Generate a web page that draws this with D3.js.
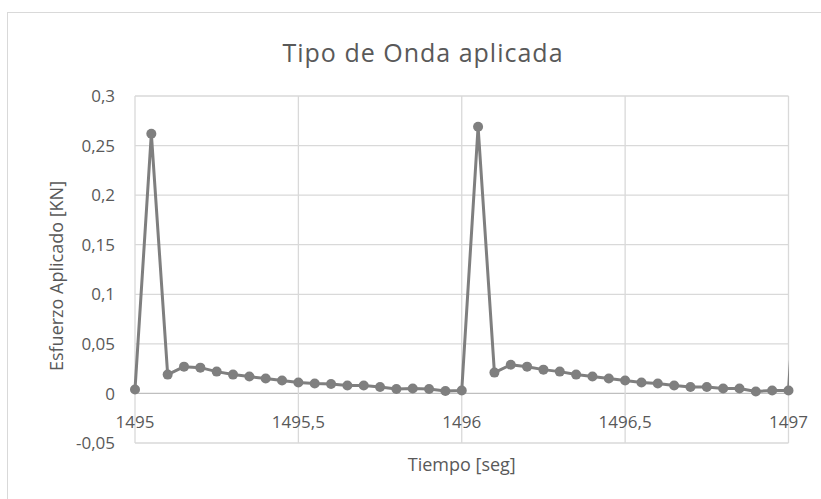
<!DOCTYPE html>
<html>
<head>
<meta charset="utf-8">
<script src="https://cdn.jsdelivr.net/npm/d3@7"></script>
<style>
  body { margin: 0; background: #fff; }
  text { font-family: "Open Sans", sans-serif; fill: #595959; }
</style>
</head>
<body>
<div id="chart"></div>
<script>
// data (tiempo en seg, esfuerzo en KN)
var tiempo = [1495, 1495.05, 1495.1, 1495.15, 1495.2, 1495.25, 1495.3, 1495.35, 1495.4, 1495.45,
  1495.5, 1495.55, 1495.6, 1495.65, 1495.7, 1495.75, 1495.8, 1495.85, 1495.9, 1495.95,
  1496, 1496.05, 1496.1, 1496.15, 1496.2, 1496.25, 1496.3, 1496.35, 1496.4, 1496.45,
  1496.5, 1496.55, 1496.6, 1496.65, 1496.7, 1496.75, 1496.8, 1496.85, 1496.9, 1496.95, 1497];
var esfuerzo = [0.004, 0.262, 0.019, 0.027, 0.026, 0.022, 0.019, 0.017, 0.015, 0.013,
  0.011, 0.010, 0.0095, 0.008, 0.008, 0.0065, 0.0045, 0.005, 0.0045, 0.0025,
  0.003, 0.269, 0.021, 0.029, 0.027, 0.024, 0.022, 0.019, 0.017, 0.015,
  0.013, 0.011, 0.010, 0.008, 0.0065, 0.0065, 0.005, 0.005, 0.002, 0.003, 0.003];
// next sample past the right edge, only its line stub shows
var tiempoSig = 1497.05, esfuerzoSig = 0.26;

var xTicks = [1495, 1495.5, 1496, 1496.5, 1497];
var yTicks = [-0.05, 0, 0.05, 0.1, 0.15, 0.2, 0.25, 0.3];

var titulo = "Tipo de Onda aplicada";
var xTitulo = "Tiempo [seg]";
var yTitulo = "Esfuerzo Aplicado [KN]";

var w = 821, h = 499;
var pLeft = 135, pRight = 788.5, pTop = 96, pBottom = 443;
var gris = "#7f7f7f";

var loc = d3.formatLocale({decimal: ",", thousands: "", grouping: [3], currency: ["", ""], minus: "-"});
var fmt = function(v) { return loc.format("")(+v.toFixed(4)); };

var svg = d3.select("#chart").append("svg")
  .attr("width", w)
  .attr("height", h);

// chart frame
svg.append("rect")
  .attr("x", 7.5).attr("y", 12.5)
  .attr("width", 840).attr("height", 520)
  .attr("fill", "#fff").attr("stroke", "#d9d9d9");

var x = d3.scaleLinear().domain([1495, 1497]).range([pLeft, pRight]);
var y = d3.scaleLinear().domain([-0.05, 0.3]).range([pBottom, pTop]);

// gridlines
svg.append("g").selectAll("line.h")
  .data(yTicks).enter().append("line")
  .attr("x1", pLeft).attr("x2", pRight)
  .attr("y1", function(d) { return y(d); })
  .attr("y2", function(d) { return y(d); })
  .attr("stroke", function(d) { return d === 0 ? "#bfbfbf" : "#d9d9d9"; })
  .attr("stroke-width", 1.3);

svg.append("g").selectAll("line.v")
  .data(xTicks).enter().append("line")
  .attr("y1", pTop).attr("y2", pBottom)
  .attr("x1", function(d) { return x(d); })
  .attr("x2", function(d) { return x(d); })
  .attr("stroke", "#d9d9d9")
  .attr("stroke-width", 1.3);

// y tick labels
svg.append("g").selectAll("text")
  .data(yTicks).enter().append("text")
  .attr("x", 115)
  .attr("y", function(d) { return y(d); })
  .attr("dy", "0.36em")
  .attr("text-anchor", "end")
  .style("font-size", "17px")
  .text(fmt);

// x tick labels sit just below the zero line
svg.append("g").selectAll("text")
  .data(xTicks).enter().append("text")
  .attr("x", function(d) { return x(d); })
  .attr("y", y(0) + 28)
  .attr("dy", "0.36em")
  .attr("text-anchor", "middle")
  .style("font-size", "17px")
  .text(fmt);

// series
var pts = tiempo.map(function(t, i) { return [t, esfuerzo[i]]; });

svg.append("clipPath").attr("id", "plot-clip")
  .append("rect")
  .attr("x", pLeft - 10).attr("y", 0)
  .attr("width", pRight - pLeft + 10.5).attr("height", h);

var line = d3.line()
  .x(function(d) { return x(d[0]); })
  .y(function(d) { return y(d[1]); });

svg.append("path")
  .datum(pts.concat([[tiempoSig, esfuerzoSig]]))
  .attr("d", line)
  .attr("clip-path", "url(#plot-clip)")
  .attr("fill", "none")
  .attr("stroke", gris)
  .attr("stroke-width", 3)
  .attr("stroke-linejoin", "round");

svg.append("g").selectAll("circle")
  .data(pts).enter().append("circle")
  .attr("cx", function(d) { return x(d[0]); })
  .attr("cy", function(d) { return y(d[1]); })
  .attr("r", 5)
  .attr("fill", gris);

// titles
svg.append("text")
  .attr("x", 423).attr("y", 62)
  .attr("text-anchor", "middle")
  .style("font-size", "25px")
  .style("letter-spacing", "1px")
  .text(titulo);

svg.append("text")
  .attr("x", (pLeft + pRight) / 2).attr("y", 471)
  .attr("text-anchor", "middle")
  .style("font-size", "18px")
  .text(xTitulo);

svg.append("text")
  .attr("transform", "translate(63," + 276 + ") rotate(-90)")
  .attr("text-anchor", "middle")
  .style("font-size", "18px")
  .text(yTitulo);
</script>
</body>
</html>
